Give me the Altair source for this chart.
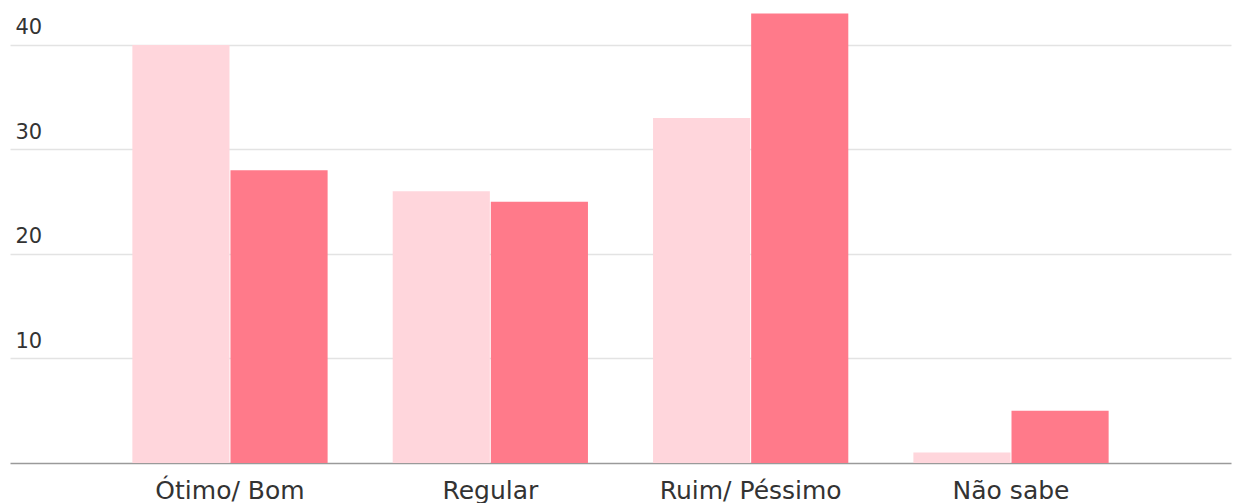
import altair as alt
import pandas as pd

categories = ["Ótimo/ Bom", "Regular", "Ruim/ Péssimo", "Não sabe"]
series_names = ["Série A", "Série B"]
series_a = [40, 26, 33, 1]
series_b = [28, 25, 43, 5]
y_ticks = [10, 20, 30, 40]
colors = ["#FFD6DC", "#FF7A8A"]

rows = []
for c, a, b in zip(categories, series_a, series_b):
    rows.append({"cat": c, "serie": series_names[0], "val": a})
    rows.append({"cat": c, "serie": series_names[1], "val": b})
df = pd.DataFrame(rows)

FONT = "DejaVu Sans"

chart = alt.Chart(df).mark_bar().encode(
    x=alt.X("cat:N", sort=categories, title=None,
            scale=alt.Scale(paddingInner=0.25, paddingOuter=0.47),
            axis=alt.Axis(labelAngle=0, ticks=False, domainColor="#9a9a9a", domainWidth=1.5,
                          labelFont=FONT, labelFontSize=25, labelColor="#333333",
                          labelLimit=400,
                          labelBaseline="alphabetic", labelPadding=35, grid=False)),
    xOffset=alt.XOffset("serie:N", sort=series_names, scale=alt.Scale(paddingInner=0.01)),
    y=alt.Y("val:Q", title=None,
            scale=alt.Scale(domain=[0, 44.3], nice=False, zero=True),
            axis=alt.Axis(values=y_ticks, ticks=False, domain=False, labelAlign="left",
                          labelPadding=-5, labelBaseline="alphabetic", labelOffset=-11,
                          labelFont=FONT, labelFontSize=21, labelColor="#333333",
                          gridColor="#e3e3e3", gridWidth=1.5)),
    color=alt.Color("serie:N", sort=series_names,
                    scale=alt.Scale(domain=series_names, range=colors), legend=None),
).properties(
    width=1221, height=463,
    autosize=alt.AutoSizeParams(type="none"),
    padding={"left": 10, "top": 0, "right": 8, "bottom": 40},
).configure_view(stroke=None)

chart.save("out.html", embed_options={"renderer": "svg", "actions": False})
